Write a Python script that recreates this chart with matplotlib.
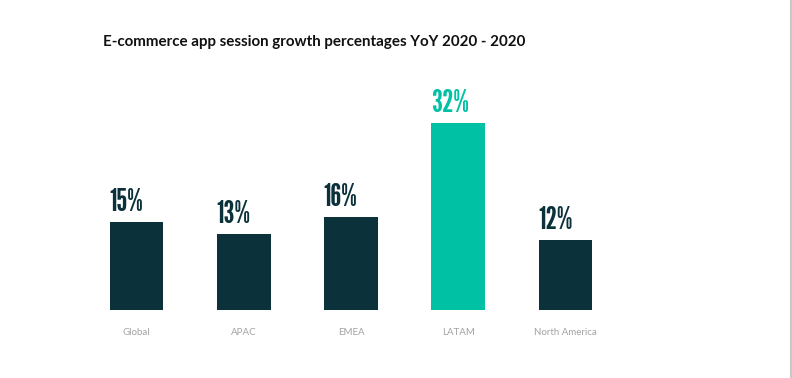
import matplotlib
matplotlib.use("Agg")
import matplotlib.pyplot as plt
from matplotlib.lines import Line2D

categories = ["Global", "APAC", "EMEA", "LATAM", "North America"]
values = [15, 13, 16, 32, 12]
labels = ["15%", "13%", "16%", "32%", "12%"]
colors = ["#0b313b", "#0b313b", "#0b313b", "#00c1a4", "#0b313b"]

W, H = 792, 378
fig = plt.figure(figsize=(W / 100, H / 100), dpi=100)
fig.patch.set_facecolor("white")

left_px, right_px = 82.9, 619.1
bottom_px, top_px = 310, 105.5
ax = fig.add_axes([left_px / W, 1 - bottom_px / H, (right_px - left_px) / W, (bottom_px - top_px) / H])
ax.set_xlim(-0.5, 4.5)
ax.set_ylim(0, 35)

label_fonts = ["League Gothic", "Antonio", "Oswald", "DejaVu Sans"]
x = list(range(len(categories)))
bars = ax.bar(x, values, width=0.5, color=colors)
for xi, v, lab, c in zip(x, values, labels, colors):
    ax.annotate(lab, xy=(xi - 0.25, v), xytext=(-0.5, 3.5), textcoords="offset points",
                ha="left", va="bottom", fontsize=22.5, fontweight="bold",
                family=label_fonts, color=c, annotation_clip=False)

ax.set_xticks(x)
ax.set_xticklabels(categories, fontsize=7, color="#a3a3a3", family="Lato")
ax.tick_params(axis="x", length=0, pad=13)
ax.set_yticks([])
for s in ax.spines.values():
    s.set_visible(False)

fig.text(103 / W, 1 - 42 / H, "E-commerce app session growth percentages YoY 2020 - 2020",
         fontsize=10.9, color="#111111", family="Lato", fontweight="bold", va="center", ha="left")

fig.add_artist(Line2D([790.5 / W, 790.5 / W], [0, 1], color="#c8c8c8", lw=1.5, transform=fig.transFigure))

fig.savefig("out.png", dpi=100, facecolor="white")
